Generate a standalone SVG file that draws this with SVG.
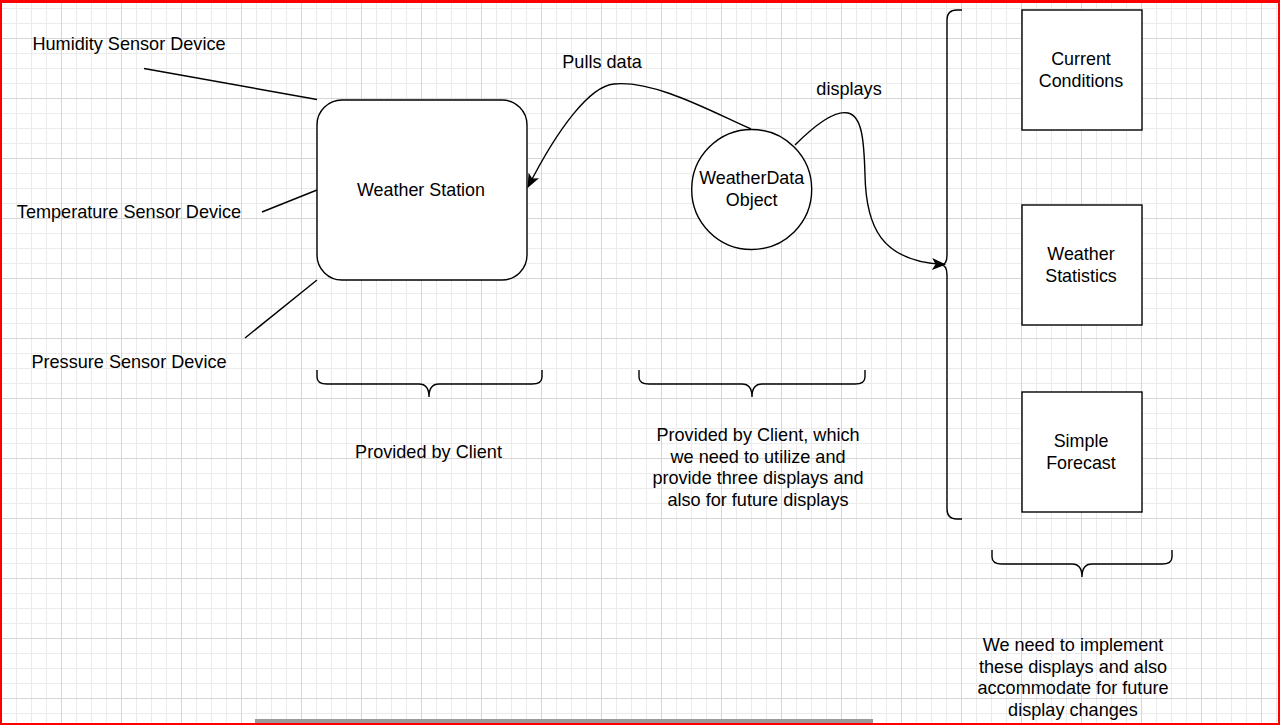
<svg xmlns="http://www.w3.org/2000/svg" width="1280" height="725" viewBox="0 0 1280 725">
<style>
.shape{fill:#ffffff;stroke:#000000;stroke-width:1.4}
.brace{fill:none;stroke:#000000;stroke-width:1.4}
.edge{fill:none;stroke:#000000;stroke-width:1.4}
.nt{font-family:"Liberation Sans",Arial,sans-serif;font-size:17.9px;fill:#000000;text-anchor:middle}
.lt{font-family:"Liberation Sans",Arial,sans-serif;font-size:18.1px;fill:#000000;text-anchor:middle}
</style>
<defs>
<pattern id="grid" x="1" y="38" width="60" height="60" patternUnits="userSpaceOnUse">
<rect x="15" y="0" width="1" height="60" fill="#ebebeb"/>
<rect x="30" y="0" width="1" height="60" fill="#ebebeb"/>
<rect x="45" y="0" width="1" height="60" fill="#ebebeb"/>
<rect x="0" y="15" width="60" height="1" fill="#ebebeb"/>
<rect x="0" y="30" width="60" height="1" fill="#ebebeb"/>
<rect x="0" y="45" width="60" height="1" fill="#ebebeb"/>
<rect x="0" y="0" width="1" height="60" fill="#d6d6d6"/>
<rect x="0" y="0" width="60" height="1" fill="#d6d6d6"/>
</pattern>
<marker id="arrow" viewBox="0 0 14 12" refX="13" refY="6" markerWidth="14" markerHeight="12" markerUnits="userSpaceOnUse" orient="auto">
<path d="M0,0 L14,6 L0,12 L3.5,6 Z" fill="#000000"/>
</marker>
</defs>
<rect x="0" y="0" width="1280" height="725" fill="#ffffff"/>
<rect x="0" y="0" width="1280" height="725" fill="url(#grid)"/>

<g id="connectors">
<line class="edge" x1="144" y1="68.5" x2="317" y2="99.5"/>
<line class="edge" x1="262" y1="212" x2="317" y2="190"/>
<line class="edge" x1="245" y1="338" x2="317" y2="280"/>
<path class="edge" d="M751,129 C712,112 655,80 614,84 C590,86 558,128 528,187" marker-end="url(#arrow)"/>
<path class="edge" d="M795,145 C815,125 834,110 848,113 C862,116 864,140 865,175 C866,225 880,262 945,264.5" marker-end="url(#arrow)"/>
</g>

<g id="weather-station">
<rect class="shape" x="317" y="100" width="210" height="180" rx="25" ry="25"/>
<text class="nt" x="421" y="196">Weather Station</text>
</g>

<g id="weatherdata-object">
<circle class="shape" cx="751.7" cy="189.5" r="60"/>
<text class="nt" x="751.7" y="184.3">WeatherData</text>
<text class="nt" x="751.7" y="206.3">Object</text>
</g>

<g id="current-conditions">
<rect class="shape" x="1022" y="10" width="120" height="120"/>
<text class="nt" x="1081" y="65">Current</text>
<text class="nt" x="1081" y="86.8">Conditions</text>
</g>

<g id="weather-statistics">
<rect class="shape" x="1022" y="205" width="120" height="120"/>
<text class="nt" x="1081" y="260">Weather</text>
<text class="nt" x="1081" y="281.8">Statistics</text>
</g>

<g id="simple-forecast">
<rect class="shape" x="1022" y="392" width="120" height="120"/>
<text class="nt" x="1081" y="447">Simple</text>
<text class="nt" x="1081" y="468.8">Forecast</text>
</g>

<g id="humidity-sensor">
<text class="lt" x="129" y="50">Humidity Sensor Device</text>
</g>
<g id="temperature-sensor">
<text class="lt" x="129" y="218">Temperature Sensor Device</text>
</g>
<g id="pressure-sensor">
<text class="lt" x="129" y="368">Pressure Sensor Device</text>
</g>

<g id="label-pulls-data">
<text class="lt" x="602" y="68">Pulls data</text>
</g>
<g id="label-displays">
<text class="lt" x="849" y="95">displays</text>
</g>

<g id="brace-station">
<path class="brace" d="M317,370 L317,377 Q317,384 327,384 L419,384 Q429,384 429,397 Q429,384 439,384 L532,384 Q542,384 542,377 L542,370"/>
</g>
<g id="brace-weatherdata">
<path class="brace" d="M639,370 L639,377 Q639,384 649,384 L742,384 Q752,384 752,397 Q752,384 762,384 L855,384 Q865,384 865,377 L865,370"/>
</g>
<g id="brace-displays-vertical">
<path class="brace" d="M962,10 L957,10 Q947,10 947,20 L947,255 Q947,265 941,265 Q947,265 947,275 L947,509 Q947,519 957,519 L962,519"/>
</g>
<g id="brace-displays">
<path class="brace" d="M992,550 L992,557 Q992,564 1002,564 L1072,564 Q1082,564 1082,577 Q1082,564 1092,564 L1162,564 Q1172,564 1172,557 L1172,550"/>
</g>

<g id="label-provided-client">
<text class="lt" x="428.5" y="458">Provided by Client</text>
</g>
<g id="label-provided-client-which">
<text class="lt" x="758" y="441">Provided by Client, which</text>
<text class="lt" x="758" y="462.7">we need to utilize and</text>
<text class="lt" x="758" y="484.4">provide three displays and</text>
<text class="lt" x="758" y="506.1">also for future displays</text>
</g>
<g id="label-we-need">
<text class="lt" x="1073" y="651">We need to implement</text>
<text class="lt" x="1073" y="672.7">these displays and also</text>
<text class="lt" x="1073" y="694.4">accommodate for future</text>
<text class="lt" x="1073" y="716.1">display changes</text>
</g>

<rect x="255" y="719" width="618" height="4" fill="#9a9a9a"/>
<rect x="0" y="0" width="1280" height="3" fill="#ff0000"/>
<rect x="0" y="0" width="2" height="725" fill="#ff0000"/>
<rect x="1278" y="0" width="2" height="725" fill="#ff0000"/>
<rect x="0" y="723" width="1280" height="2" fill="#ff0000"/>
</svg>
